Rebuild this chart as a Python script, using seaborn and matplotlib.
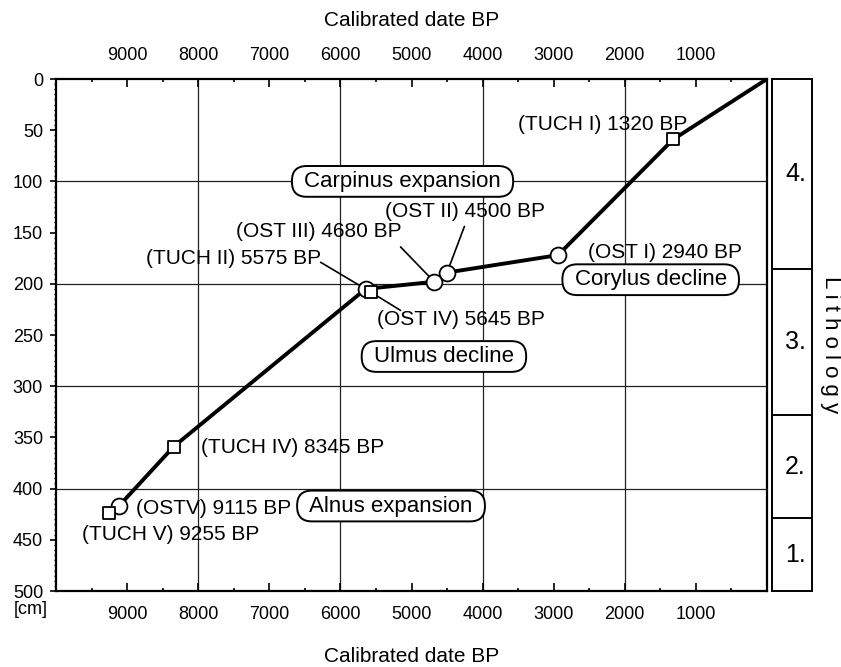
import matplotlib
matplotlib.use('Agg')
import numpy as np
import pandas as pd
import seaborn as sns
import matplotlib.pyplot as plt
from matplotlib.patches import BoxStyle
from matplotlib.ticker import FixedLocator, MultipleLocator

sns.set_style('white')
plt.rcParams['font.family'] = ['Liberation Sans', 'DejaVu Sans']
plt.rcParams['text.color'] = 'black'
plt.rcParams['xtick.color'] = 'black'
plt.rcParams['ytick.color'] = 'black'

# dated samples (calibrated age BP, depth cm)
tuch_age = [1320, 5575, 8345, 9255]
tuch_depth = [59, 208, 359, 424]
ost_age = [2940, 4500, 4680, 5645, 9115]
ost_depth = [172, 189, 198, 205, 417]

# age-depth model line
line_age = [9115, 8345, 5645, 4680, 4500, 2940, 1320, 0]
line_depth = [417, 359, 205, 198, 189, 172, 59, 0]

labels = ['(TUCH I) 1320 BP', '(OST I) 2940 BP', '(OST II) 4500 BP', '(OST III) 4680 BP',
          '(TUCH II) 5575 BP', '(OST IV) 5645 BP', '(TUCH IV) 8345 BP', '(OSTV) 9115 BP',
          '(TUCH V) 9255 BP']
events = ['Carpinus expansion', 'Corylus decline', 'Ulmus decline', 'Alnus expansion']

litho_bounds = [0, 186, 328, 429, 500]
litho_units = ['4.', '3.', '2.', '1.']

x_ticks = [1000, 2000, 3000, 4000, 5000, 6000, 7000, 8000, 9000]
x_grid = [8000, 6000, 4000, 2000]
y_grid = [100, 200, 300, 400]

# label placement (layout)
lab_x = [3497, 2514, 5379, 7472, 6278, 5492, 7963, 8876, 9635]
lab_y = [44, 169, 129, 149, 175, 235, 360, 419, 445]
lab_ha = ['left', 'left', 'left', 'left', 'right', 'left', 'left', 'left', 'left']
leaders = [(6278, 179, 5575, 208), (5645, 205, 5154, 226), (5154, 164, 4680, 198), (4256, 144, 4500, 189)]
ev_x = [5126, 1636, 4544, 5288]
ev_y = [100, 196, 271, 417]


def pill(x0, y0, width, height, mutation_size):
    px = 0.55 * mutation_size
    py = 0.22 * mutation_size
    h = height + 2 * py
    return BoxStyle.Round(pad=0, rounding_size=0.48 * h / mutation_size)(
        x0 - px, y0 - py, width + 2 * px, h, mutation_size)


W, H = 841, 667
fig = plt.figure(figsize=(W / 100, H / 100), dpi=100)
ax = fig.add_axes([56 / W, 76 / H, 711 / W, 512 / H])
ax2 = fig.add_axes([772 / W, 76 / H, 40 / W, 512 / H])

for g in x_grid:
    ax.axvline(g, color='#222222', lw=0.9, zorder=0)
for g in y_grid:
    ax.axhline(g, color='#222222', lw=0.9, zorder=0)

for x1, y1, x2, y2 in leaders:
    ax.plot([x1, x2], [y1, y2], color='black', lw=1.2, zorder=2)

sns.lineplot(x=line_age, y=line_depth, sort=False, color='black', lw=2.8, ax=ax, zorder=3)
sns.scatterplot(x=ost_age, y=ost_depth, marker='o', s=130, color='white', edgecolor='black',
                linewidth=1.3, ax=ax, zorder=4)
sns.scatterplot(x=tuch_age, y=tuch_depth, marker='s', s=85, color='white', edgecolor='black',
                linewidth=1.3, ax=ax, zorder=5)

for t, x, y, ha in zip(labels, lab_x, lab_y, lab_ha):
    ax.text(x, y, t, ha=ha, va='center', fontsize=15, zorder=6)

for t, x, y in zip(events, ev_x, ev_y):
    ax.text(x, y, t, ha='center', va='center', fontsize=16, zorder=6,
            bbox=dict(boxstyle=pill, fc='white', ec='black', lw=1.4))

ax.set_xlim(10000, 0)
ax.set_ylim(500, 0)
ax.set_xlabel('')
ax.set_ylabel('')
ax.xaxis.set_major_locator(FixedLocator(x_ticks))
ax.xaxis.set_minor_locator(FixedLocator([t + 500 for t in [0] + x_ticks]))
ax.yaxis.set_major_locator(MultipleLocator(50))
ax.yaxis.set_minor_locator(MultipleLocator(5))
ax.tick_params(axis='x', which='both', direction='in', top=True, bottom=True,
               labeltop=True, labelbottom=True, labelsize=13, pad=11, width=1.2)
ax.tick_params(axis='x', which='major', length=5.5)
ax.tick_params(axis='x', which='minor', length=2)
ax.tick_params(axis='y', which='both', direction='out', left=True, labelsize=13, pad=5, width=1.2)
ax.tick_params(axis='y', which='major', length=4.3)
ax.tick_params(axis='y', which='minor', length=1.8, width=0.9)
for s in ax.spines.values():
    s.set_linewidth(1.6)
    s.set_color('black')

# lithology column
ax2.set_xlim(0, 1)
ax2.set_ylim(500, 0)
ax2.set_xticks([])
ax2.set_yticks([])
for b in litho_bounds[1:-1]:
    ax2.axhline(b, color='black', lw=1.4)
for u, top, bot in zip(litho_units, litho_bounds[:-1], litho_bounds[1:]):
    ax2.text(0.85, (top + bot) / 2, u, ha='right', va='center', fontsize=18)
for s in ax2.spines.values():
    s.set_linewidth(1.4)
    s.set_color('black')

fig.text(411.5 / W, 1 - 21 / H, 'Calibrated date BP', ha='center', va='center', fontsize=15)
fig.text(411.5 / W, 1 - 657 / H, 'Calibrated date BP', ha='center', va='center', fontsize=15)
fig.text(48 / W, 1 - 610 / H, '[cm]', ha='right', va='center', fontsize=13)
fig.text(831 / W, 1 - 345 / H, 'L i t h o l o g y', ha='center', va='center', fontsize=16, rotation=-90)

fig.savefig('out.png', dpi=100)
